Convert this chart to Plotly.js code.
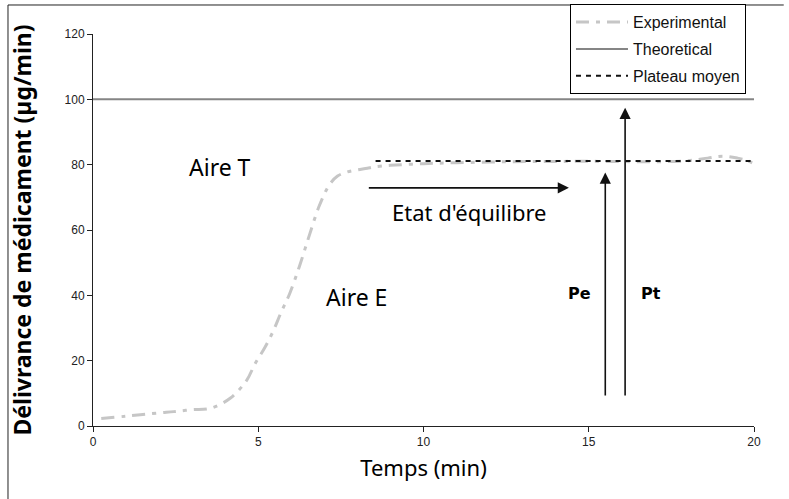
<!DOCTYPE html>
<html>
<head>
<meta charset="utf-8">
<script src="https://cdn.plot.ly/plotly-3.0.1.min.js"></script>
<style>html,body{margin:0;padding:0;background:#fff;}#chart{width:789px;height:499px;}</style>
</head>
<body>
<div id="chart"></div>
<script>
// Experimental release curve
const expTime = [0.25, 1.0, 2.0, 2.45, 3.0, 3.55, 4.15, 4.65, 4.9, 5.2, 5.45, 5.7, 5.95, 6.25, 6.55, 6.85, 7.15, 7.4, 7.7, 8.0, 8.3, 8.5, 9.0, 10.0, 11.0, 12.5, 14.0, 15.5, 17.0, 18.0, 18.6, 19.05, 19.5, 19.8, 20.0];
const expValue = [2.3, 3.0, 4.0, 4.4, 5.0, 5.4, 8.5, 14.0, 19.0, 24.0, 29.0, 35.0, 40.5, 49.0, 58.5, 67.5, 73.8, 76.5, 77.8, 78.4, 78.9, 79.3, 79.8, 80.3, 80.6, 80.9, 81.0, 81.0, 80.9, 81.2, 82.0, 82.6, 82.0, 81.2, 80.3];
// Theoretical release
const theoTime = [0, 20];
const theoValue = [100, 100];
// Average plateau
const plateauTime = [8.55, 20];
const plateauValue = [81.1, 81.1];
// Annotation values
const peValue = 77.6;   // Pe arrow tip
const ptValue = 97.4;   // Pt arrow tip
const arrowBase = 8.9;
const peTime = 15.5;
const ptTime = 16.1;
const eqStart = 8.3, eqEnd = 14.4, eqLevel = 72.9;

const xTicks = [0, 5, 10, 15, 20];
const yTicks = [0, 20, 40, 60, 80, 100, 120];

const traces = [
  {x: expTime, y: expValue, type: 'scatter', mode: 'lines', name: 'Experimental', legendgroup: 'a',
   line: {color: '#c6c6c6', width: 3, dash: '13px,7px,4px,7px', shape: 'spline'}},
  {x: theoTime, y: theoValue, type: 'scatter', mode: 'lines', name: 'Theoretical', legendgroup: 'b',
   line: {color: '#858585', width: 2}},
  {x: plateauTime, y: plateauValue, type: 'scatter', mode: 'lines', name: 'Plateau moyen', legendgroup: 'c',
   line: {color: '#111111', width: 2, dash: '5px,5px'}}
];

const txt = 'Noto Sans, Open Sans, sans-serif';
const tick = 'Liberation Sans, Arial, sans-serif';

const arrow = (x, y, ax, ay) => ({x: x, y: y, ax: ax, ay: ay, xref: 'x', yref: 'y', axref: 'x', ayref: 'y',
  showarrow: true, arrowhead: 2, arrowsize: 1.4, arrowwidth: 1.6, arrowcolor: '#111', text: ''});

const layout = {
  width: 789, height: 499,
  margin: {l: 93, r: 35, t: 34, b: 73, autoexpand: false},
  paper_bgcolor: '#fff', plot_bgcolor: '#fff',
  showlegend: true,
  legend: {x: 0.7216, y: 1.076, xanchor: 'left', yanchor: 'top', bgcolor: '#fff', bordercolor: '#000', borderwidth: 1,
    font: {family: tick, size: 16, color: '#111'}, traceorder: 'grouped', tracegroupgap: 3, itemwidth: 52},
  xaxis: {range: [0, 20], tickvals: xTicks, ticktext: xTicks.map(String), showgrid: false, zeroline: false,
    showline: true, linecolor: '#222', linewidth: 1, ticks: 'outside', ticklen: 5, tickcolor: '#222',
    tickfont: {family: tick, size: 12, color: '#222'}, automargin: false,
    title: {text: 'Temps (min)', font: {family: txt, size: 22, color: '#000'}, standoff: 12}},
  yaxis: {range: [0, 120], tickvals: yTicks, ticktext: yTicks.map(String), showgrid: false, zeroline: false,
    showline: true, linecolor: '#222', linewidth: 1, ticks: 'outside', ticklen: 5, tickcolor: '#222',
    tickfont: {family: tick, size: 12, color: '#222'}, automargin: false,
    title: {text: '<b>Délivrance de médicament (µg/min)</b>', font: {family: txt, size: 23, color: '#000'}, standoff: 26}},
  shapes: [
    {type: 'line', xref: 'paper', yref: 'paper', x0: -0.1286, x1: -0.1286, y0: 1.074, y1: -0.2, line: {color: '#222', width: 1}},
    {type: 'line', xref: 'paper', yref: 'paper', x0: -0.1286, x1: 1.045, y0: 1.074, y1: 1.074, line: {color: '#222', width: 1}}
  ],
  annotations: [
    arrow(eqEnd, eqLevel, eqStart, eqLevel),
    arrow(peTime, peValue, peTime, arrowBase),
    arrow(ptTime, ptValue, ptTime, arrowBase),
    {x: 11.4, y: 65.6, xref: 'x', yref: 'y', text: "Etat d'équilibre", showarrow: false, font: {family: txt, size: 22, color: '#000'}},
    {x: 3.84, y: 79.3, xref: 'x', yref: 'y', text: 'Aire T', showarrow: false, font: {family: txt, size: 23, color: '#000'}},
    {x: 7.97, y: 39.6, xref: 'x', yref: 'y', text: 'Aire E', showarrow: false, font: {family: txt, size: 23, color: '#000'}},
    {x: 14.73, y: 40.7, xref: 'x', yref: 'y', text: '<b>Pe</b>', showarrow: false, font: {family: 'DejaVu Sans, sans-serif', size: 16, color: '#000'}},
    {x: 16.87, y: 40.7, xref: 'x', yref: 'y', text: '<b>Pt</b>', showarrow: false, font: {family: 'DejaVu Sans, sans-serif', size: 16, color: '#000'}}
  ]
};

Plotly.newPlot('chart', traces, layout, {displayModeBar: false, staticPlot: true});
</script>
</body>
</html>
